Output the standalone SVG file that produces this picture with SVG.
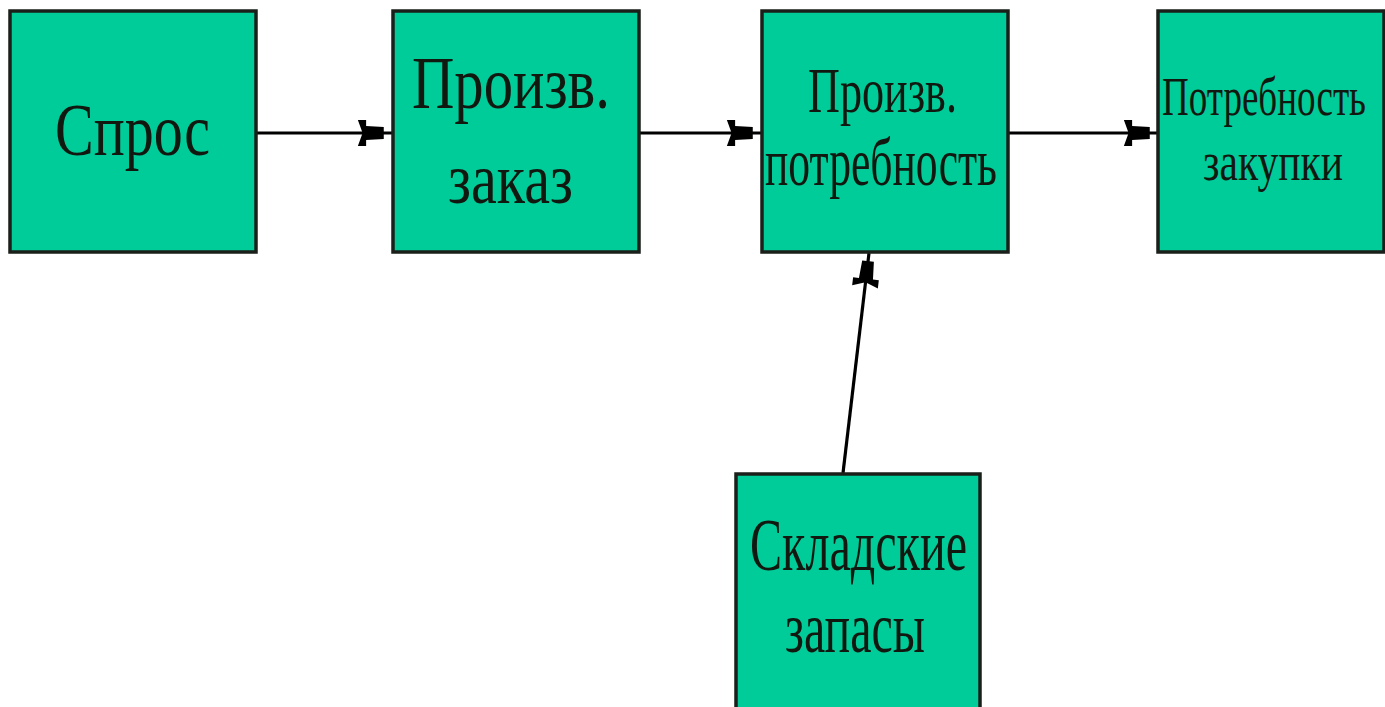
<svg xmlns="http://www.w3.org/2000/svg" width="1385" height="707" viewBox="0 0 1385 707">
<style>
.box{fill:#00CC99;stroke:#1a1f1a;stroke-width:3.5}
.t{font-family:"Liberation Serif","DejaVu Serif",serif;fill:#101810;text-anchor:start}
.c{stroke:#000;stroke-width:3.2;fill:none;marker-end:url(#ah)}
</style>
<defs>
<marker id="ah" markerUnits="userSpaceOnUse" markerWidth="40" markerHeight="40" viewBox="-30 -14 34 28" refX="0" refY="0" orient="auto">
<path d="M-29,-11 L-22,-11 L-22,-6 L-7,-5 L-7,5 L-22,6 L-22,11 L-29,11 L-25,0 Z" fill="#000"/>
</marker>
</defs>
<rect width="1385" height="707" fill="#ffffff"/>
<g id="connectors">
<line class="c" x1="256" y1="133" x2="392" y2="133"/>
<line class="c" x1="639" y1="133" x2="761" y2="133"/>
<line class="c" x1="1008" y1="133" x2="1158" y2="133"/>
<line class="c" x1="843" y1="473" x2="869" y2="253"/>
</g>
<g id="node-spros">
<rect class="box" x="10" y="11" width="246" height="241"/>
<text class="t" x="55" y="155" font-size="74" textLength="155" lengthAdjust="spacingAndGlyphs">Спрос</text>
</g>
<g id="node-zakaz">
<rect class="box" x="393" y="11" width="246" height="241"/>
<text class="t" x="412" y="108" font-size="74" textLength="198" lengthAdjust="spacingAndGlyphs">Произв.</text>
<text class="t" x="448" y="203" font-size="72" textLength="125" lengthAdjust="spacingAndGlyphs">заказ</text>
</g>
<g id="node-potrebnost">
<rect class="box" x="762" y="11" width="246" height="241"/>
<text class="t" x="808" y="112" font-size="64" textLength="149" lengthAdjust="spacingAndGlyphs">Произв.</text>
<text class="t" x="765" y="185" font-size="68" textLength="232" lengthAdjust="spacingAndGlyphs">потребность</text>
</g>
<g id="node-zakupki">
<rect class="box" x="1158" y="11" width="226" height="241"/>
<text class="t" transform="translate(1162,115) scale(1,1.42)" x="0" y="0" font-size="38" textLength="204" lengthAdjust="spacingAndGlyphs">Потребность</text>
<text class="t" x="1203" y="180" font-size="54" textLength="140" lengthAdjust="spacingAndGlyphs">закупки</text>
</g>
<g id="node-zapasy">
<rect class="box" x="736" y="474" width="244" height="250"/>
<text class="t" x="750" y="570" font-size="74" textLength="217" lengthAdjust="spacingAndGlyphs">Складские</text>
<text class="t" x="785" y="652" font-size="72" textLength="140" lengthAdjust="spacingAndGlyphs">запасы</text>
</g>
</svg>
